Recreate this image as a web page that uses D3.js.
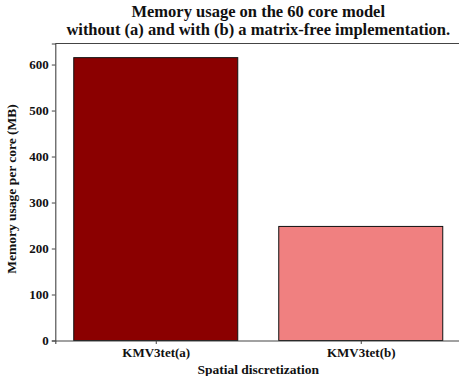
<!DOCTYPE html>
<html>
<head>
<meta charset="utf-8">
<script src="https://cdn.jsdelivr.net/npm/d3@7"></script>
<style>
  html, body { margin: 0; padding: 0; background: #fff; }
  svg { display: block; font-family: "Liberation Serif", "Times New Roman", serif; }
</style>
</head>
<body>
<svg id="chart" width="459" height="376"></svg>
<script>
// Memory usage per core for the two discretizations
const categories = ["KMV3tet(a)", "KMV3tet(b)"];
const memoryMB = [615, 248];
const barColors = ["#8b0000", "#f08080"];
const yTicks = [0, 100, 200, 300, 400, 500, 600];

const svg = d3.select("#chart");
const serif = "Liberation Serif";
const plotLeft = 55.3, plotRight = 461.2, plotTop = 43.5, plotBottom = 340.5;

// bars sit at integer positions with width 0.8, axis padded by 5%
const x = d3.scaleLinear().domain([-0.49, 1.49]).range([plotLeft, plotRight]);
const y = d3.scaleLinear().domain([0, d3.max(memoryMB) * 1.05]).range([plotBottom, plotTop]);
const barW = 0.8;

// bars
svg.append("g").selectAll("rect").data(memoryMB).join("rect")
  .attr("x", (d, i) => x(i - barW / 2))
  .attr("width", (d, i) => x(i + barW / 2) - x(i - barW / 2))
  .attr("y", d => y(d))
  .attr("height", d => y(0) - y(d))
  .attr("fill", (d, i) => barColors[i])
  .attr("stroke", "#111")
  .attr("stroke-width", 1);

// y axis
const yAxis = svg.append("g")
  .attr("transform", `translate(${plotLeft},0)`)
  .call(d3.axisLeft(y).tickValues(yTicks).tickSize(3.5).tickPadding(3).tickFormat(d3.format("d")));
yAxis.attr("font-family", serif);
yAxis.selectAll("text").attr("font-size", 13).attr("font-weight", "bold").attr("fill", "#111");

// x axis
const xAxis = svg.append("g")
  .attr("transform", `translate(0,${plotBottom})`)
  .call(d3.axisBottom(x).tickValues(d3.range(categories.length)).tickSize(3.5).tickPadding(4)
    .tickFormat(i => categories[i]));
xAxis.attr("font-family", serif);
xAxis.selectAll("text").attr("font-size", 13).attr("font-weight", "bold").attr("fill", "#111");

[yAxis, xAxis].forEach(g => {
  g.select(".domain").attr("stroke", "#444").attr("stroke-width", 1.1);
  g.selectAll(".tick line").attr("stroke", "#444");
});

// top spine
svg.append("line")
  .attr("x1", plotLeft).attr("x2", plotRight).attr("y1", plotTop).attr("y2", plotTop)
  .attr("stroke", "#444").attr("stroke-width", 1.1);

// titles
const cx = (plotLeft + plotRight) / 2;
const title = svg.append("text")
  .attr("x", cx).attr("text-anchor", "middle").attr("font-family", serif)
  .attr("font-size", 16.5).attr("font-weight", "bold").attr("fill", "#111");
title.append("tspan").attr("x", cx).attr("y", 17).text("Memory usage on the 60 core model");
title.append("tspan").attr("x", cx).attr("y", 35).text("without (a) and with (b) a matrix-free implementation.");

svg.append("text")
  .attr("x", cx).attr("y", 373.5).attr("text-anchor", "middle").attr("font-family", serif)
  .attr("font-size", 13.5).attr("font-weight", "bold").attr("fill", "#111")
  .text("Spatial discretization");

svg.append("text")
  .attr("transform", `translate(15.5,189) rotate(-90)`)
  .attr("text-anchor", "middle").attr("font-family", serif)
  .attr("font-size", 13.5).attr("font-weight", "bold").attr("fill", "#111")
  .text("Memory usage per core (MB)");
</script>
</body>
</html>
